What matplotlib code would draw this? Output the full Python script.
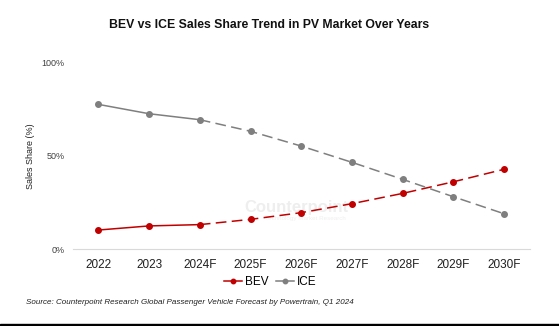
import matplotlib
matplotlib.use('Agg')
import matplotlib.pyplot as plt
from matplotlib.patches import Rectangle

plt.rcParams['font.family'] = ['Liberation Sans', 'DejaVu Sans']

years = ['2022', '2023', '2024F', '2025F', '2026F', '2027F', '2028F', '2029F', '2030F']
bev = [10.3, 12.5, 13.2, 16.0, 19.6, 24.4, 29.9, 36.1, 42.8]
ice = [77.5, 72.5, 69.3, 63.1, 55.2, 46.5, 37.4, 28.1, 19.0]
n_actual = 3  # solid up to 2024F, dashed forecast afterwards

bev_color = '#C00000'
ice_color = '#7F7F7F'

fig = plt.figure(figsize=(5.59, 3.26), dpi=100)
ax = fig.add_axes([73 / 559, 1 - 249.3 / 326, 456.5 / 559, 187 / 326])

x = list(range(len(years)))
for vals, col, name in [(bev, bev_color, 'BEV'), (ice, ice_color, 'ICE')]:
    ax.plot(x[:n_actual], vals[:n_actual], color=col, lw=1.1, marker='o', ms=4, label=name)
    ax.plot(x[n_actual - 1:], vals[n_actual - 1:], color=col, lw=1.1, ls=(0, (7, 3.5)))
    ax.plot(x[n_actual:], vals[n_actual:], color=col, lw=0, marker='o', ms=4)

ax.set_xlim(-0.5, len(years) - 0.5)
ax.set_ylim(0, 100)
ax.set_yticks([0, 50, 100])
ax.set_yticklabels(['0%', '50%', '100%'], fontsize=6.5, color='#404040')
ax.set_xticks(x)
ax.set_xticklabels(years, fontsize=8.5, color='#202020')
ax.tick_params(axis='both', length=0)
ax.tick_params(axis='y', pad=6)
ax.tick_params(axis='x', pad=7)
for s in ['top', 'right', 'left']:
    ax.spines[s].set_visible(False)
ax.spines['bottom'].set_color('#D9D9D9')
ax.spines['bottom'].set_linewidth(0.8)
ax.set_ylabel('Sales Share (%)', fontsize=6.5, color='#202020')
ax.yaxis.set_label_coords(-(73 - 35) / 456.5, 0.5)

# watermark
ax.text(0.49, 0.225, 'Counterpoint', transform=ax.transAxes, fontsize=12, fontweight='bold',
        color='#EEEEEE', ha='center', va='center', zorder=0)
ax.text(0.51, 0.165, 'Technology Market Research', transform=ax.transAxes, fontsize=4.5,
        color='#F0F0F0', ha='center', va='center', zorder=0)

fig.text(269 / 559, 1 - 25.5 / 326, 'BEV vs ICE Sales Share Trend in PV Market Over Years',
         fontsize=8.8, fontweight='bold', ha='center', va='center', color='#111111')

handles, labels = ax.get_legend_handles_labels()
fig.legend(handles, labels, loc='center', bbox_to_anchor=(270 / 559, 1 - 282 / 326), ncol=2,
           frameon=False, fontsize=8.5, handlelength=1.6, handletextpad=0.2, columnspacing=0.6,
           markerscale=0.8)

fig.text(26 / 559, 1 - 302 / 326,
         'Source: Counterpoint Research Global Passenger Vehicle Forecast by Powertrain, Q1 2024',
         fontsize=5.75, style='italic', ha='left', va='center', color='#202020')

fig.patches.append(Rectangle((0, 0), 1, 2 / 326, transform=fig.transFigure, color='black'))

fig.savefig('out.png', dpi=100)
